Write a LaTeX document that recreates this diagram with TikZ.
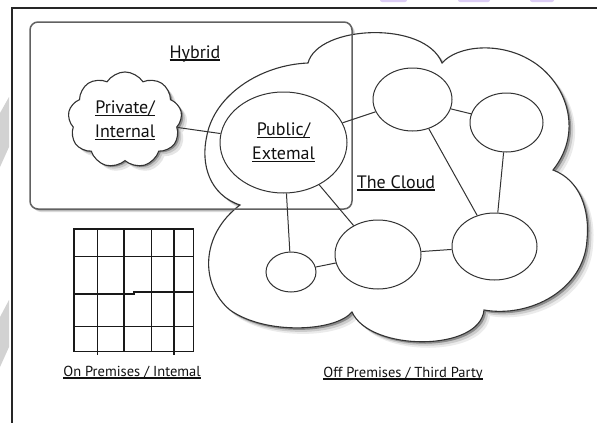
\documentclass[tikz,border=0pt]{standalone}
\usepackage{fontspec}
\setmainfont{PT Sans}
\usetikzlibrary{shapes.geometric,shapes.symbols}
\definecolor{edge}{HTML}{333333}
\definecolor{txt}{HTML}{111111}
\definecolor{lav}{HTML}{DCCDF5}
\definecolor{wm}{HTML}{D2D2D2}
\newsavebox{\ulabbox}
\newcommand{\ulab}[1]{\leavevmode\sbox{\ulabbox}{#1}\rlap{\rule[-2.6pt]{\wd\ulabbox}{1.2pt}}\usebox{\ulabbox}}
\newcommand{\bigcloudpath}{(240,205) .. controls (210,195) and (200,165) .. (207,135)
  .. controls (215,95) and (260,65) .. (308,63)
  .. controls (318,25) and (425,20) .. (442,63)
  .. controls (458,45) and (500,42) .. (530,60)
  .. controls (565,80) and (585,130) .. (553,170)
  .. controls (580,180) and (590,210) .. (587,240)
  .. controls (584,290) and (530,318) .. (484,310)
  .. controls (480,352) and (370,352) .. (352,312)
  .. controls (335,332) and (265,335) .. (230,310)
  .. controls (200,285) and (200,235) .. cycle}
\tikzset{
  biglbl/.style={font=\fontsize{18}{24}\selectfont, text=txt, align=center},
  smalllbl/.style={font=\fontsize{14.5}{18}\selectfont, text=txt},
  ell/.style={ellipse, draw=edge, line width=1pt, fill=white, inner sep=0pt},
  link/.style={draw=edge, line width=1pt},
  gridline/.style={line width=1.5pt, draw=black!90},
  hybridbox/.style={draw=black!62, line width=1.5pt, rounded corners=8pt},
  privcloud/.style={cloud, cloud puffs=9, cloud puff arc=115, minimum width=114pt, minimum height=95pt, inner sep=0pt},
}
\begin{document}
\begin{tikzpicture}[x=1pt,y=-1pt]
\useasboundingbox (0,0) rectangle (597,423);
\fill[white] (0,0) rectangle (597,423);
% page artifacts
\fill[lav, rounded corners=2pt] (380,-4) rectangle (407,2);
\fill[lav, rounded corners=2pt] (458,-4) rectangle (490,2);
\fill[lav, rounded corners=2pt] (530,-4) rectangle (554,2);
\fill[wm] (0,113) -- (9,97) -- (9,147) -- (0,167) -- cycle;
\fill[wm] (0,317) -- (9,300) -- (9,347) -- (0,367) -- cycle;
% frame
\draw[line width=1.2pt, black!85] (597,8) -- (12,8) -- (12,423);
% hybrid box shadow and background
\fill[black!15, rounded corners=8pt] (33,25) rectangle (355,212);
\fill[black!35, rounded corners=8pt] (31.5,23.5) rectangle (353.5,210.5);
\fill[white, rounded corners=8pt] (30,22) rectangle (352,209);
% the big cloud: shadow layers then body
\fill[black!8] [shift={(6,6)}] \bigcloudpath;
\fill[black!20] [shift={(4,4)}] \bigcloudpath;
\fill[black!45] [shift={(2,2)}] \bigcloudpath;
\path[draw=edge, line width=1.1pt, fill=white] \bigcloudpath;
% hybrid box outline
\draw[hybridbox] (30,22) rectangle (352,209);
\node[biglbl, anchor=base] (hyb) at (195,58) {\ulab{Hybrid}};
% private cloud (with shadow)
\node[privcloud, fill=black!10] (privsh3) at (130.5,125.5) {};
\node[privcloud, fill=black!22] (privsh2) at (128.5,123.5) {};
\node[privcloud, fill=black!45] (privsh1) at (126.8,121.8) {};
\node[privcloud, draw=edge, line width=1.1pt, fill=white, biglbl] (priv) at (125,120) {\ulab{Private/}\\\ulab{Internal}};
% public ellipse
\node[ell, minimum width=127pt, minimum height=101pt, biglbl] (pub) at (283.5,142.5) {\ulab{Public/}\\\ulab{Extemal}};
% other ellipses
\node[ell, minimum width=79pt, minimum height=63pt] (e1) at (412.5,99.5) {};
\node[ell, minimum width=73pt, minimum height=59pt] (e2) at (506.5,122.5) {};
\node[ell, minimum width=85pt, minimum height=67pt] (e3) at (494.5,246.5) {};
\node[ell, minimum width=86pt, minimum height=69pt] (e4) at (378,254.5) {};
\node[ell, minimum width=50pt, minimum height=40pt] (e5) at (291,272) {};
\node[biglbl, anchor=base] (cl) at (396,188) {\ulab{The Cloud}};
% connectors
\draw[link] (priv) -- (pub);
\draw[link] (pub) -- (e1);
\draw[link] (e1) -- (e2);
\draw[link] (e1) -- (e3);
\draw[link] (e2) -- (e3);
\draw[link] (pub) -- (e5);
\draw[link] (pub) -- (e4);
\draw[link] (e5) -- (e4);
\draw[link] (e4) -- (e3);
% grid (on premises)
\draw[gridline] (74,229) rectangle (193.3,351.7);
\draw[gridline] (74,256.7) -- (193.3,256.7);
\draw[gridline] (74,294) -- (134,294) -- (134,292) -- (193.3,292);
\draw[gridline] (74,326.7) -- (193.3,326.7);
\draw[gridline] (97.7,229) -- (97.7,355);
\draw[gridline] (124,229) -- (124,351.7);
\draw[gridline] (151.7,229) -- (151.7,351.7);
\draw[gridline] (174,229) -- (174,355);
% bottom labels
\node[smalllbl, anchor=base] (onp) at (132,376) {\ulab{On Premises / Intemal}};
\node[smalllbl, anchor=base] (offp) at (403,377) {\ulab{Off Premises / Third Party}};
\end{tikzpicture}
\end{document}
